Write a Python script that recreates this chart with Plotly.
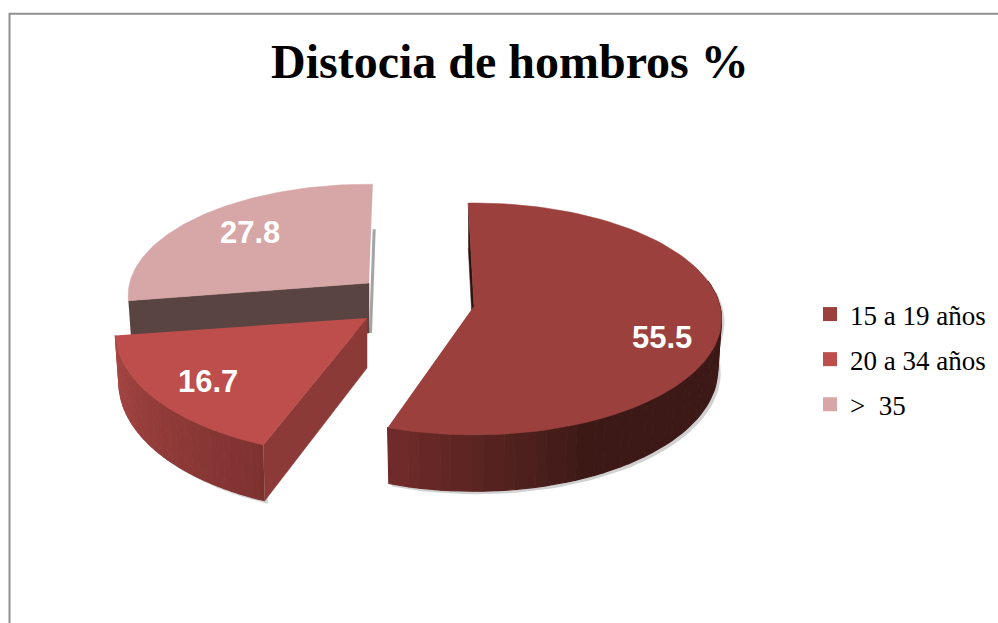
import numpy as np
import plotly.graph_objects as go

# --- data ---
categories = ["15 a 19 años", "20 a 34 años", ">\u00a0\u00a035"]
values = [55.5, 16.7, 27.8]
title_text = "Distocia de hombros %"
colors = ["#9b403d", "#bd4e4b", "#d7a6a6"]

# --- drawing geometry (screen-like axes 0..998 / 623..0) ---
apex = [(474, 306), (367, 318), (369, 283)]
rotation = [-1.5, 2.0, 1.0]
scale_x = [1.012, 1.03, 0.985]
scale_y = [1.0, 1.07, 0.96]
rx, ry, k, depth, shrink = 243.0, 114.5, 0.112, 50.0, 0.985
side_from = ["#6e2b29", "#a64643", "#7a5a58"]
side_to = ["#3c1916", "#7e3230", "#7a5a58"]
cut_start = ["#2e1411", "#8c3a38", "#5a4441"]
label_pos = [(662, 337), (208, 381), (250, 232)]
draw_order = [2, 1, 0]


def project(i, deg):
    t = np.radians(deg)
    s, v = np.sin(t), -np.cos(t)
    f = 1 / (1 - k * v)
    x = apex[i][0] + rx * scale_x[i] * s * f
    y = apex[i][1] + ry * scale_y[i] * v * f
    return x, y, f


def lower(i, x, y, f):
    return apex[i][0] + (x - apex[i][0]) * shrink, y + depth * f


def hexmix(a, b, w):
    ca = [int(a[j:j + 2], 16) for j in (1, 3, 5)]
    cb = [int(b[j:j + 2], 16) for j in (1, 3, 5)]
    return "rgb(%d,%d,%d)" % tuple(round(p + (q - p) * w) for p, q in zip(ca, cb))


fig = go.Figure()


def poly(xs, ys, color, lw=1.2):
    fig.add_trace(go.Scatter(x=list(xs), y=list(ys), mode="lines", fill="toself",
                             fillcolor=color, line=dict(color=color, width=lw),
                             hoverinfo="skip", showlegend=False))


edges = np.cumsum([0] + values) * 3.6
for i in draw_order:
    a0 = edges[i] + rotation[i]
    a1 = edges[i + 1] + rotation[i]
    ang = np.linspace(a0, a1, 90)
    x, y, f = project(i, ang)
    xb, yb = lower(i, x, y, f)
    ax, ay = apex[i]
    axb, ayb = ax, ay + depth

    # soft drop shadow
    if i != 2:
        poly(np.r_[x, xb[::-1]] + 3, np.r_[y, yb[::-1]] + 3, "rgba(90,90,90,0.28)", 0)
    else:
        poly([xb[-1], xb[-1] + 3, axb + 3, axb], [yb[-1], yb[-1], ayb, ayb], "rgba(90,90,90,0.55)", 0)

    # cut face at the start of the slice
    poly([x[0], ax, axb, xb[0]], [y[0], ay, ayb, yb[0]], cut_start[i], 0.5)

    # curved rim, only the forward-facing part, with a gradient
    if i != 2:
        vis = np.where(np.cos(np.radians(ang)) < 0.25)[0]
        n = 36
        idx = np.linspace(vis[0], vis[-1], n + 1).astype(int)
        for j in range(n):
            a, b = idx[j], idx[j + 1] + 1
            w = j / (n - 1)
            if i == 0:
                w = min(1.0, (1 - w) / 0.35)
            else:
                w = 1 - w
            poly(np.r_[x[a:b], xb[a:b][::-1]], np.r_[y[a:b], yb[a:b][::-1]],
                 hexmix(side_from[i], side_to[i], w))

    # top face
    poly(np.r_[ax, x], np.r_[ay, y], colors[i], 0.5)

# legend entries
for name, c in zip(categories, colors):
    fig.add_trace(go.Scatter(x=[None], y=[None], mode="markers", name=name,
                             legendgroup=name,
                             marker=dict(symbol="square", size=14, color=c)))

annotations = [dict(x=p[0], y=p[1], text=f"<b>{v}</b>", showarrow=False, xref="x", yref="y",
                    font=dict(family="Liberation Sans", size=31, color="white"))
               for p, v in zip(label_pos, values)]
annotations.append(dict(x=510, y=61, text=f"<b>{title_text}</b>", showarrow=False, xref="x", yref="y",
                        font=dict(family="Liberation Serif", size=48, color="black")))

fig.update_layout(
    width=998, height=623, margin=dict(l=0, r=0, t=0, b=0),
    paper_bgcolor="white", plot_bgcolor="white",
    xaxis=dict(range=[0, 998], visible=False, fixedrange=True),
    yaxis=dict(range=[623, 0], visible=False, fixedrange=True),
    annotations=annotations,
    legend=dict(x=810 / 998, y=1 - 290 / 623, xanchor="left", yanchor="top",
                font=dict(family="Liberation Serif", size=27, color="black"),
                itemwidth=30, traceorder="grouped", tracegroupgap=7,
                bgcolor="rgba(0,0,0,0)"),
    shapes=[dict(type="rect", xref="x", yref="y", x0=9.5, y0=13.7, x1=1010, y1=640,
                 line=dict(color="#909090", width=2), layer="below")],
)
fig.write_html("out.html", config=dict(displayModeBar=False),
               post_script="document.body.style.margin='0';document.documentElement.style.overflow='hidden';")
